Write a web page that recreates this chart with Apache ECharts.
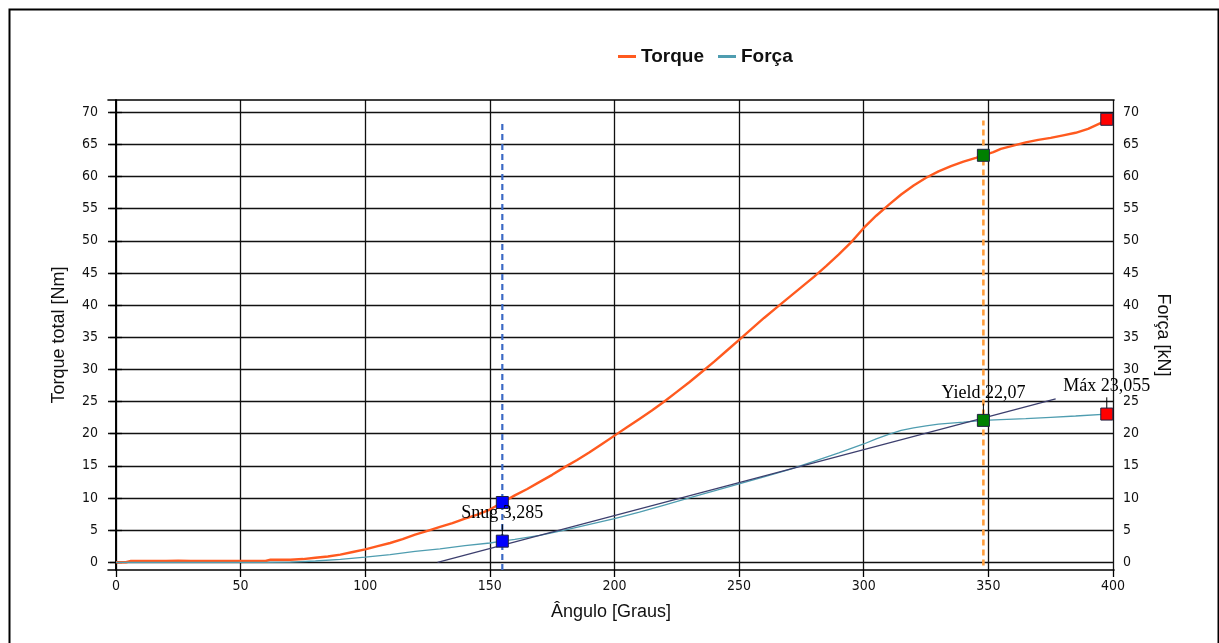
<!DOCTYPE html>
<html>
<head>
<meta charset="utf-8">
<script src="https://cdn.jsdelivr.net/npm/echarts@6/dist/echarts.min.js"></script>
<style>
  html, body { margin: 0; padding: 0; background: #fff; }
  #chart { width: 1219px; height: 643px; }
</style>
</head>
<body>
<div id="chart"></div>
<script>
// Torque (Nm) against tightening angle (degrees)
const torqueAngles = [0, 4, 6, 10, 20, 25, 30, 40, 50, 60, 62, 70, 75, 80, 85, 90, 95, 100, 105, 110,
  115, 120, 125, 130, 135, 140, 145, 150, 155, 160, 165, 170, 175, 180, 185, 190, 195, 200, 205, 210,
  215, 220, 225, 230, 235, 240, 245, 250, 255, 260, 265, 270, 275, 280, 285, 290, 295, 300, 305, 310,
  315, 320, 325, 330, 335, 340, 345, 348, 352, 355, 360, 365, 370, 375, 380, 385, 390, 395, 397.5];
const torqueValues = [0, 0, 0.2, 0.2, 0.2, 0.25, 0.2, 0.2, 0.2, 0.2, 0.4, 0.4, 0.5, 0.7, 0.9, 1.2, 1.6, 2.0, 2.5, 3.0,
  3.6, 4.3, 4.9, 5.5, 6.1, 6.8, 7.4, 8.2, 9.3, 10.4, 11.4, 12.5, 13.6, 14.8, 15.9, 17.1, 18.4, 19.7, 21.0, 22.3,
  23.6, 25.0, 26.5, 28.0, 29.6, 31.2, 32.9, 34.6, 36.3, 38.0, 39.6, 41.2, 42.8, 44.4, 46.1, 47.9, 49.8, 52.0, 53.9, 55.6,
  57.2, 58.6, 59.8, 60.8, 61.6, 62.3, 62.9, 63.3, 63.8, 64.3, 64.8, 65.3, 65.7, 66.0, 66.4, 66.8, 67.4, 68.3, 68.9];

// Clamp force (kN) against angle
const forceAngles = [0, 20, 40, 60, 70, 80, 90, 100, 110, 120, 130, 140, 150, 155, 160, 170, 180, 190, 200, 210,
  220, 230, 240, 250, 260, 270, 280, 290, 300, 305, 310, 315, 320, 325, 330, 340, 348, 355, 365, 375, 385, 397.5];
const forceValues = [0, 0, 0, 0, 0.02, 0.2, 0.45, 0.8, 1.2, 1.7, 2.1, 2.6, 3.0, 3.285, 3.55, 4.2, 5.0, 5.9, 6.8, 7.8,
  8.9, 10.0, 11.1, 12.2, 13.3, 14.4, 15.7, 17.0, 18.4, 19.2, 19.9, 20.5, 20.9, 21.2, 21.5, 21.8, 22.07, 22.2, 22.35, 22.55, 22.75, 23.055];

// Elastic-range tangent of the force curve
const tangentAngles = [129, 377];
const tangentForce = [0, 25.4];

// Snug, yield and maximum points
const eventNames = ['Snug', 'Yield', 'Máx'];
const eventAngles = [155, 348, 397.5];
const eventTorque = [9.3, 63.3, 68.9];
const eventForce = [3.285, 22.07, 23.055];

// Axis ticks
const xTicks = [0, 50, 100, 150, 200, 250, 300, 350, 400];
const yTicks = [0, 5, 10, 15, 20, 25, 30, 35, 40, 45, 50, 55, 60, 65, 70];

const zip = (xs, ys) => xs.map((x, i) => [x, ys[i]]);

const tickFont = "'DejaVu Sans Condensed', 'DejaVu Sans', sans-serif";
const nameFont = "'Liberation Sans', Arial, sans-serif";
const noteFont = "'Liberation Serif', 'Times New Roman', serif";
const gridColor = '#111';
const eventColors = ['#0000ff', '#008000', '#ff0000'];
const guideTop = 68.7;
const leaderLen = 2.6;

const xRange = { min: -3.2, max: 400.4 };
const yRange = { min: -1.2, max: 71.9 };

const axisText = { color: '#111', fontFamily: tickFont, fontSize: 14 };

function valueAxisY(position, name, rotate, gap, margin) {
  return {
    type: 'value', position, ...yRange,
    name, nameLocation: 'middle', nameGap: gap, nameRotate: rotate,
    nameTextStyle: { color: '#111', fontFamily: nameFont, fontSize: 18 },
    axisLine: { show: true, lineStyle: { color: '#000', width: 1.6 } },
    axisTick: { show: true, inside: false, length: 6, customValues: yTicks, lineStyle: { color: '#000', width: 1.3 } },
    axisLabel: { show: true, margin, customValues: yTicks, ...axisText },
    splitLine: { show: position === 'left', lineStyle: { color: gridColor, width: 1.3 } }
  };
}

const series = [
  {
    name: 'Torque', type: 'line', xAxisIndex: 0, yAxisIndex: 0,
    data: zip(torqueAngles, torqueValues), showSymbol: false, symbol: 'none',
    lineStyle: { color: '#ff5a1f', width: 2.4 }, itemStyle: { color: '#ff5a1f' }, z: 3
  },
  {
    name: 'Força', type: 'line', xAxisIndex: 0, yAxisIndex: 1,
    data: zip(forceAngles, forceValues), showSymbol: false, symbol: 'none',
    lineStyle: { color: '#4f9db0', width: 1.3 }, itemStyle: { color: '#4f9db0' }, z: 3
  },
  {
    name: 'tangent', type: 'line', xAxisIndex: 0, yAxisIndex: 1,
    data: zip(tangentAngles, tangentForce), showSymbol: false, symbol: 'none',
    lineStyle: { color: '#3c3f6e', width: 1.3 }, z: 3
  },
  {
    name: 'snugGuide', type: 'line', xAxisIndex: 0, yAxisIndex: 0,
    data: [[eventAngles[0], yRange.min], [eventAngles[0], guideTop]], showSymbol: false, symbol: 'none',
    lineStyle: { color: '#3a68c4', width: 2.2, type: [6, 4] }, z: 2
  },
  {
    name: 'yieldGuide', type: 'line', xAxisIndex: 0, yAxisIndex: 0,
    data: [[eventAngles[1], -0.5], [eventAngles[1], guideTop]], showSymbol: false, symbol: 'none',
    lineStyle: { color: '#ff9f3f', width: 2.6, type: [6, 4] }, z: 2
  }
];

// Short leader strokes from each force point up to its label
eventAngles.forEach((a, i) => {
  series.push({
    name: 'leader' + i, type: 'line', xAxisIndex: 0, yAxisIndex: 1,
    data: [[a, eventForce[i]], [a, eventForce[i] + leaderLen]], showSymbol: false, symbol: 'none',
    lineStyle: { color: '#000', width: 1 }, z: 4
  });
});

series.push({
  name: 'torquePoints', type: 'scatter', xAxisIndex: 0, yAxisIndex: 0,
  symbol: 'rect', symbolSize: 12, z: 6,
  data: eventAngles.map((a, i) => ({
    value: [a, eventTorque[i]],
    itemStyle: { color: eventColors[i], opacity: 1, borderColor: '#1e2040', borderWidth: 1 }
  }))
});

series.push({
  name: 'forcePoints', type: 'scatter', xAxisIndex: 0, yAxisIndex: 1,
  symbol: 'rect', symbolSize: 12, z: 6,
  data: eventAngles.map((a, i) => ({
    value: [a, eventForce[i]],
    itemStyle: { color: eventColors[i], opacity: 1, borderColor: '#1e2040', borderWidth: 1 },
    label: {
      show: true, position: 'top', distance: 12,
      formatter: eventNames[i] + ' ' + String(eventForce[i]).replace('.', ','),
      color: '#000', fontFamily: noteFont, fontSize: 18
    }
  }))
});

const chart = echarts.init(document.getElementById('chart'), null, { renderer: 'canvas' });
chart.setOption({
  animation: false,
  backgroundColor: '#fff',
  legend: {
    data: ['Torque', 'Força'],
    left: 613, top: 42,
    itemWidth: 18, itemHeight: 3, itemGap: 14,
    icon: 'rect',
    textStyle: { color: '#111', fontFamily: nameFont, fontSize: 19, fontWeight: 'bold' }
  },
  grid: { left: 108, right: 105, top: 100, bottom: 73, outerBoundsMode: 'none', containLabel: false },
  xAxis: [
    {
      type: 'value', position: 'bottom', ...xRange,
      name: 'Ângulo [Graus]', nameLocation: 'middle', nameGap: 33,
      nameTextStyle: { color: '#111', fontFamily: nameFont, fontSize: 18 },
      axisLine: { show: true, onZero: false, lineStyle: { color: '#000', width: 1.6 } },
      axisTick: { show: true, inside: false, length: 7, customValues: xTicks, lineStyle: { color: '#000', width: 1.3 } },
      axisLabel: { show: true, margin: 9, customValues: xTicks, ...axisText },
      splitLine: { show: true, lineStyle: { color: gridColor, width: 1.3 } }
    },
    {
      type: 'value', position: 'top', ...xRange,
      axisLine: { show: true, onZero: false, lineStyle: { color: '#000', width: 1.6 } },
      axisTick: { show: false }, axisLabel: { show: false }, splitLine: { show: false }
    }
  ],
  yAxis: [
    valueAxisY('left', 'Torque total [Nm]', 90, 40, 10),
    valueAxisY('right', 'Força [kN]', -90, 40, 9)
  ],
  graphic: [
    {
      type: 'rect', left: 7, top: 7, silent: true,
      shape: { width: 1209, height: 700 },
      style: { fill: 'none', stroke: '#000', lineWidth: 2 }
    }
  ],
  series
});
</script>
</body>
</html>
